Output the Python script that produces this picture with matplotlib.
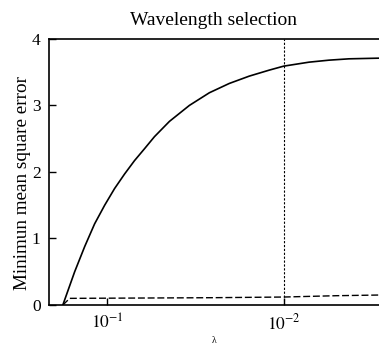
import numpy as np
import matplotlib
matplotlib.use("Agg")
import matplotlib.pyplot as plt

plt.rcParams['font.family'] = ['Liberation Serif', 'DejaVu Serif']
plt.rcParams['mathtext.fontset'] = 'stix'

# log10(lambda) sample points
log_lambda = [-0.749, -0.816, -0.873, -0.929, -0.986, -1.042, -1.099,
              -1.155, -1.212, -1.268, -1.353, -1.466, -1.579, -1.692,
              -1.805, -1.918, -2.0, -2.144, -2.257, -2.370, -2.54]
mse_solid = [0.0, 0.50, 0.88, 1.22, 1.50, 1.75, 1.97,
             2.17, 2.35, 2.53, 2.76, 3.00, 3.19, 3.33,
             3.44, 3.53, 3.59, 3.65, 3.68, 3.70, 3.71]

log_lambda_dash = [-0.749, -0.788, -1.2, -1.6, -2.0, -2.3, -2.54]
mse_dash = [0.0, 0.10, 0.105, 0.11, 0.12, 0.14, 0.15]

lambda_sel = 1e-2
x_ticks = [1e-1, 1e-2]
x_ticklabels = [r'$10^{-1}$', r'$10^{-2}$']
y_ticks = [0, 1, 2, 3, 4]

fig = plt.figure(figsize=(3.79, 3.47), dpi=100)
ax = fig.add_axes([0.129, 0.121, 0.871, 0.767])

lam = 10 ** np.array(log_lambda)
lam_d = 10 ** np.array(log_lambda_dash)
ax.plot(lam, mse_solid, color='black', lw=1.2)
ax.plot(lam_d, mse_dash, color='black', lw=1.0, ls=(0, (5, 2)))
ax.axvline(lambda_sel, color='black', lw=0.8, ls=(0, (2, 1.5)))

ax.set_xscale('log')
ax.set_xlim(10 ** -0.67, 10 ** -2.54)
ax.set_ylim(0, 4)
ax.set_xticks(x_ticks)
ax.set_xticklabels(x_ticklabels)
ax.minorticks_off()
ax.set_yticks(y_ticks)

ax.spines['right'].set_visible(False)
for s in ['left', 'bottom', 'top']:
    ax.spines[s].set_linewidth(1.2)
ax.tick_params(direction='in', length=5, width=1, labelsize=12.5, pad=6)

ax.set_title('Wavelength selection', fontsize=14, pad=10)
ax.set_ylabel('Minimun mean square error', fontsize=13.8)
ax.yaxis.set_label_coords(-0.055, 0.46)
ax.set_xlabel('λ', fontsize=7, labelpad=2)

plt.savefig('out.png', dpi=100)
plt.close()
